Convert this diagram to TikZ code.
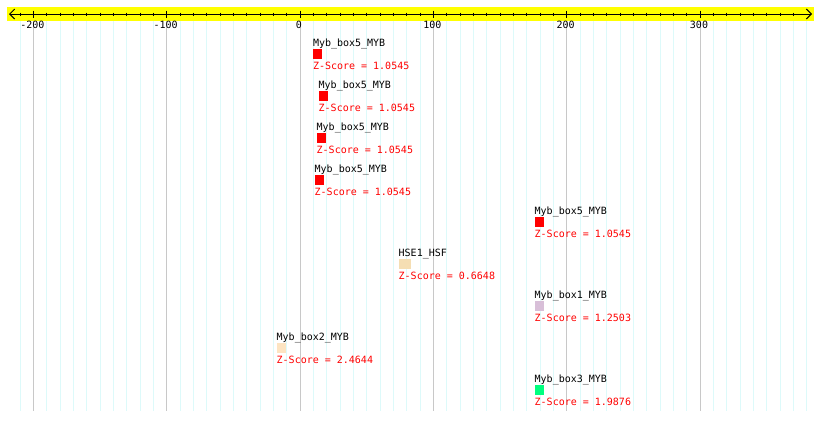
\documentclass[tikz,border=0pt]{standalone}
\usepackage{fontspec}
\setmonofont{DejaVu Sans Mono}
\usetikzlibrary{arrows.meta}
\definecolor{gridc}{HTML}{DDFAFA}
\definecolor{gridmaj}{HTML}{C8C8C8}
\definecolor{bandc}{HTML}{FFFF00}
\definecolor{zred}{HTML}{FF0000}
\definecolor{cwheat}{HTML}{F5DEB3}
\definecolor{cthistle}{HTML}{D8BFD8}
\definecolor{cbisque}{HTML}{FDE4C2}
\definecolor{cspring}{HTML}{00FF7F}
\newcommand\featitem[7]{%
  \node[namelbl] (#1n) at (#2,#3+4) {#6};
  \node[featbox, fill=#5, minimum width=#4pt] (#1b) at (#2,#3+7) {};
  \node[scorelbl] (#1s) at (#2,#3+27) {Z-Score = #7};
}
\begin{document}
\begin{tikzpicture}[x=1pt,y=-1pt,
  every node/.style={inner sep=0pt,outer sep=0pt},
  txt/.style={font=\ttfamily\fontsize{10}{12}\selectfont},
  namelbl/.style={txt,anchor=base west,text=black},
  scorelbl/.style={txt,anchor=base west,text=zred},
  axlbl/.style={txt,anchor=base,text=black},
  featbox/.style={anchor=north west,minimum height=10pt,draw=none},
  gridline/.style={draw=gridc,line width=1pt},
  gridmajor/.style={draw=gridmaj,line width=1pt},
  axisline/.style={draw=black,line width=1pt},
]
\useasboundingbox (0,0) rectangle (820,421);
\fill[white] (0,0) rectangle (820,421);
% grid
\foreach \u in {-210,-200,...,380}{
  \pgfmathsetmacro\xx{300+\u*4/3}
  \draw[gridline] (\xx,21) -- (\xx,411);
}
\foreach \u in {-200,-100,0,100,200,300}{
  \pgfmathsetmacro\xx{300+\u*4/3}
  \draw[gridmajor] (\xx,21) -- (\xx,411);
}
% axis band
\fill[bandc] (7,7) rectangle (814,21);
\coordinate (axL) at (9,14);
\coordinate (axR) at (812,14);
\draw[axisline,{Straight Barb[length=5pt,width=10pt]}-{Straight Barb[length=5pt,width=10pt]}] (axL) -- (axR);
\foreach \u in {-210,-200,...,370}{
  \pgfmathsetmacro\xx{300+\u*4/3}
  \draw[axisline] (\xx,12.7) -- (\xx,16);
}
\foreach \u in {-200,-100,0,100,200,300}{
  \pgfmathsetmacro\xx{300+\u*4/3}
  \draw[axisline] (\xx,10.5) -- (\xx,17.5);
  \node[axlbl] at (\xx-1,28.5) {\u};
}
% features
\featitem{f1}{313}{42}{9.3}{zred}{Myb\_box5\_MYB}{1.0545}
\featitem{f2}{318.7}{84}{9.3}{zred}{Myb\_box5\_MYB}{1.0545}
\featitem{f3}{316.7}{126}{9.3}{zred}{Myb\_box5\_MYB}{1.0545}
\featitem{f4}{314.7}{168}{9.3}{zred}{Myb\_box5\_MYB}{1.0545}
\featitem{f5}{534.7}{210}{9.3}{zred}{Myb\_box5\_MYB}{1.0545}
\featitem{f6}{398.7}{252}{12}{cwheat}{HSE1\_HSF}{0.6648}
\featitem{f7}{534.7}{294}{9.3}{cthistle}{Myb\_box1\_MYB}{1.2503}
\featitem{f8}{276.7}{336}{9.3}{cbisque}{Myb\_box2\_MYB}{2.4644}
\featitem{f9}{534.7}{378}{9.3}{cspring}{Myb\_box3\_MYB}{1.9876}
\end{tikzpicture}
\end{document}
